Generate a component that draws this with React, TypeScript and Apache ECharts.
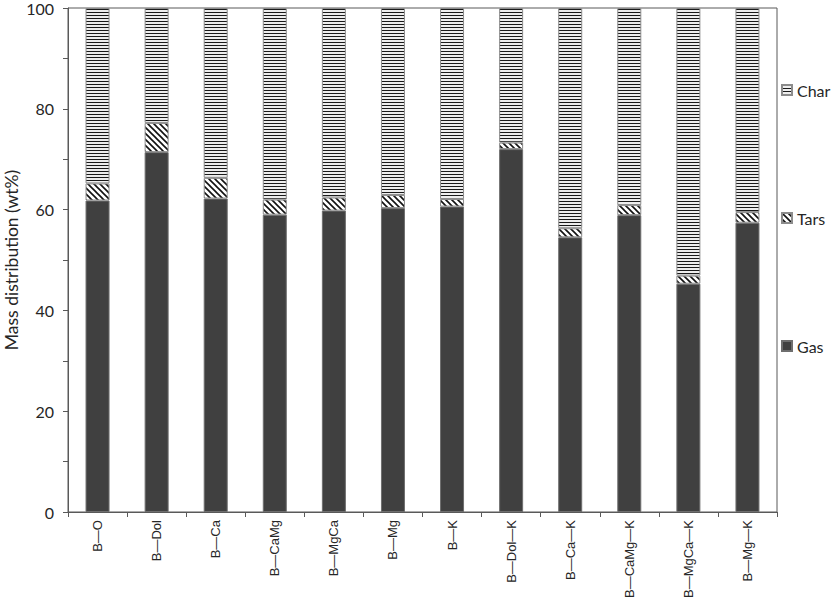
import React, { useEffect, useRef } from "react";
import * as echarts from "echarts";

const categories = [
  "B—O",
  "B—Dol",
  "B—Ca",
  "B—CaMg",
  "B—MgCa",
  "B—Mg",
  "B—K",
  "B—Dol—K",
  "B—Ca—K",
  "B—CaMg—K",
  "B—MgCa—K",
  "B—Mg—K",
];

const gas = [61.8, 71.4, 62.2, 59.0, 59.8, 60.3, 60.6, 72.0, 54.5, 58.9, 45.3, 57.4];
const tars = [3.4, 5.8, 4.1, 3.0, 2.6, 2.6, 1.5, 1.3, 1.8, 2.0, 1.6, 2.1];
const char = gas.map((g, i) => +(100 - g - tars[i]).toFixed(1));

const yTicks = [0, 20, 40, 60, 80, 100];

const makeCharPattern = () => {
  const c = document.createElement("canvas");
  c.width = 4;
  c.height = 3;
  const ctx = c.getContext("2d")!;
  ctx.fillStyle = "#eeeeee";
  ctx.fillRect(0, 0, 4, 3);
  ctx.fillStyle = "#1a1a1a";
  ctx.fillRect(0, 0, 4, 1);
  return { image: c, repeat: "repeat", imageWidth: 4, imageHeight: 3 };
};

const makeTarsPattern = () => {
  const s = 6;
  const c = document.createElement("canvas");
  c.width = s;
  c.height = s;
  const ctx = c.getContext("2d")!;
  ctx.fillStyle = "#ffffff";
  ctx.fillRect(0, 0, s, s);
  ctx.strokeStyle = "#111111";
  ctx.lineWidth = 1.6;
  ctx.beginPath();
  ctx.moveTo(-1, -1);
  ctx.lineTo(s + 1, s + 1);
  ctx.moveTo(-1, s - 1);
  ctx.lineTo(1, s + 1);
  ctx.moveTo(s - 1, -1);
  ctx.lineTo(s + 1, 1);
  ctx.stroke();
  return { image: c, repeat: "repeat", imageWidth: s, imageHeight: s };
};

const App = () => {
  const chartRef = useRef<HTMLDivElement>(null);

  useEffect(() => {
    document.body.style.margin = "0";
    const chart = echarts.init(chartRef.current, null, { renderer: "svg" });

    const legendText = { fontFamily: "Lato", fontSize: 16, color: "#262626" };
    const legendBase = {
      orient: "vertical",
      left: 781,
      padding: 0,
      itemWidth: 10,
      itemHeight: 10,
      icon: "rect",
      selectedMode: false,
      textStyle: legendText,
    };

    chart.setOption({
      animation: false,
      grid: {
        left: 68,
        right: 54,
        top: 8,
        bottom: 90,
        show: true,
        borderColor: "#595959",
        borderWidth: 1,
        outerBoundsMode: "none",
      },
      legend: [
        { ...legendBase, top: 82, data: ["Char"] },
        { ...legendBase, top: 210, data: ["Tars"] },
        { ...legendBase, top: 338, data: ["Gas"] },
      ],
      xAxis: {
        type: "category",
        data: categories,
        axisLine: { lineStyle: { color: "#595959", width: 1 } },
        axisTick: { show: true, length: 5, lineStyle: { color: "#595959" } },
        axisLabel: {
          interval: 0,
          rotate: 90,
          margin: 8,
          fontFamily: "Liberation Sans",
          fontSize: 13,
          color: "#262626",
        },
      },
      yAxis: {
        type: "value",
        min: 0,
        max: 100,
        interval: 10,
        name: "Mass distribution (wt%)",
        nameLocation: "middle",
        nameGap: 48,
        nameMoveOverlap: false,
        nameTextStyle: { fontFamily: "Lato", fontSize: 17.5, color: "#262626" },
        axisLine: { show: true, lineStyle: { color: "#595959", width: 1 } },
        axisTick: { show: true, length: 5, lineStyle: { color: "#595959" } },
        splitLine: { show: false },
        axisLabel: {
          margin: 14,
          fontFamily: "Lato",
          fontSize: 16,
          color: "#262626",
          formatter: (v: number) => (yTicks.includes(v) ? String(v) : ""),
        },
      },
      series: [
        {
          name: "Gas",
          type: "bar",
          stack: "total",
          barWidth: 24,
          data: gas,
          itemStyle: { color: "#404040", borderColor: "#6e6e6e", borderWidth: 1 },
        },
        {
          name: "Tars",
          type: "bar",
          stack: "total",
          barWidth: 24,
          data: tars,
          itemStyle: { color: makeTarsPattern(), borderColor: "#8c8c8c", borderWidth: 1 },
        },
        {
          name: "Char",
          type: "bar",
          stack: "total",
          barWidth: 24,
          data: char,
          itemStyle: { color: makeCharPattern(), borderColor: "#8c8c8c", borderWidth: 1 },
        },
      ],
    });

    return () => {
      chart.dispose();
    };
  }, []);

  return <div ref={chartRef} style={{ width: 831, height: 602 }} />;
};

export default App;
